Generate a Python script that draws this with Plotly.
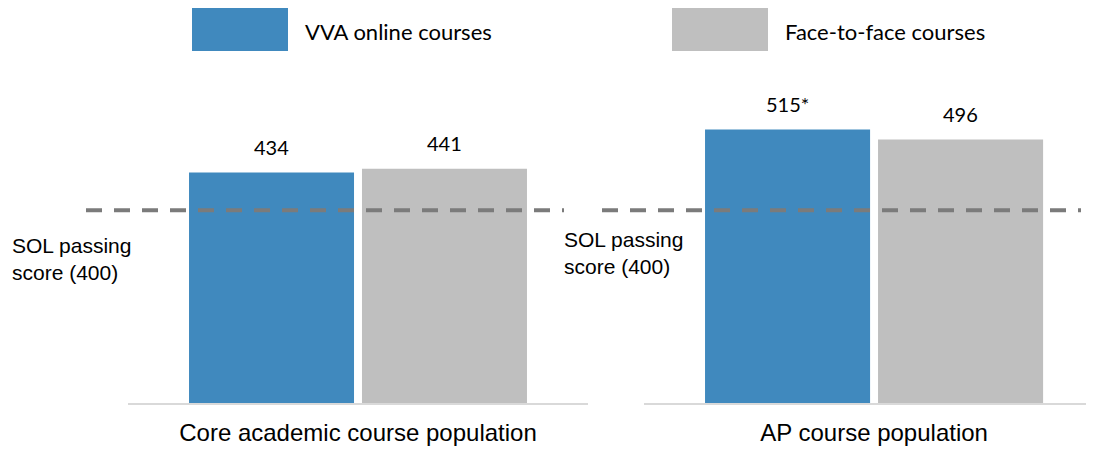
import plotly.graph_objects as go

# data
categories = ["Core academic course population", "AP course population"]
series_names = ["VVA online courses", "Face-to-face courses"]
online_scores = [434, 515]
f2f_scores = [441, 496]
online_flags = ["", "*"]   # * = significant difference
f2f_flags = ["", ""]
sol_label = "SOL passing<br>score (400)"
sol_line_value = 363       # where the dashed line is drawn on the bar scale

BLUE = "#4089BE"
GRAY = "#BFBFBF"
DASH = "#7B7B7B"

# page body has an 8px margin, so the figure is a bit smaller than the window
OFF = 8
W, H = 1094 - OFF, 449 - OFF
MT, MB = 52, 46


def paper_x(px):
    # px = pixel column in the window
    return (px - OFF) / W


def paper_y(py):
    return (H - MB - (py - OFF)) / (H - MT - MB)


fig = go.Figure()

axes = [("x", "y"), ("x2", "y2")]
for i, (xa, ya) in enumerate(axes):
    fig.add_trace(go.Bar(
        x=[categories[i]], y=[online_scores[i]], xaxis=xa, yaxis=ya,
        marker=dict(color=BLUE, line=dict(width=0)), name=series_names[0],
        showlegend=False, hoverinfo="skip"))
    fig.add_trace(go.Bar(
        x=[categories[i]], y=[f2f_scores[i]], xaxis=xa, yaxis=ya,
        marker=dict(color=GRAY, line=dict(width=0)), name=series_names[1],
        showlegend=False, hoverinfo="skip"))

    # value labels above the bars
    for vals, flags, shift in [(online_scores, online_flags, -86.5),
                               (f2f_scores, f2f_flags, 86.5)]:
        fig.add_annotation(
            x=categories[i], y=vals[i], xref=xa, yref=ya,
            text=f"{vals[i]}{flags[i]}", showarrow=False,
            xshift=shift, yshift=26, yanchor="middle",
            font=dict(family="Lato", size=20, color="#000000"))

# dashed passing-score lines
dash_spans = [(86, 564, "y"), (602, 1081, "y2")]
for x0, x1, yr in dash_spans:
    fig.add_shape(type="line", xref="paper", yref=yr,
                  x0=paper_x(x0), x1=paper_x(x1),
                  y0=sol_line_value, y1=sol_line_value,
                  line=dict(color=DASH, width=4, dash="16px,12px"))

# passing-score labels
for px, yr, ysh in [(10, "y", -22), (562, "y2", -16)]:
    fig.add_annotation(x=paper_x(px), y=sol_line_value, xref="paper", yref=yr,
                       xanchor="left", yanchor="top", yshift=ysh,
                       text=sol_label, showarrow=False, align="left",
                       font=dict(family="Liberation Sans", size=21, color="#000000"))

# legend drawn by hand (large swatches)
legend_items = [(192, 288, BLUE, series_names[0], 303),
                (672, 768, GRAY, series_names[1], 783)]
for x0, x1, col, name, tx in legend_items:
    fig.add_shape(type="rect", xref="paper", yref="paper",
                  x0=paper_x(x0), x1=paper_x(x1), y0=paper_y(51), y1=paper_y(8),
                  fillcolor=col, line=dict(width=0))
    fig.add_annotation(x=paper_x(tx), y=paper_y(31), xref="paper", yref="paper",
                       xanchor="left", yanchor="middle", text=name, showarrow=False,
                       font=dict(family="Lato", size=22, color="#000000"))

y_top = (H - MT - MB) / 0.531
xcommon = dict(showline=True, linecolor="#D9D9D9", linewidth=2, showgrid=False,
               zeroline=False, ticks="outside", ticklen=7, tickcolor="rgba(0,0,0,0)",
               tickfont=dict(family="Liberation Sans", size=24, color="#000000"),
               fixedrange=True)
ycommon = dict(visible=False, range=[0, y_top], showgrid=False, zeroline=False,
               fixedrange=True)

fig.update_layout(
    width=W, height=H,
    margin=dict(l=0, r=0, t=MT, b=MB),
    paper_bgcolor="white", plot_bgcolor="white",
    barmode="group", bargap=0.248, bargroupgap=0.046,
    xaxis=dict(domain=[paper_x(128), paper_x(588)], range=[-0.5, 0.5], anchor="y", **xcommon),
    xaxis2=dict(domain=[paper_x(644), 1.0], range=[-0.5, 0.478], anchor="y2", **xcommon),
    yaxis=dict(anchor="x", **ycommon),
    yaxis2=dict(anchor="x2", **ycommon),
)

fig.write_html("out.html")
